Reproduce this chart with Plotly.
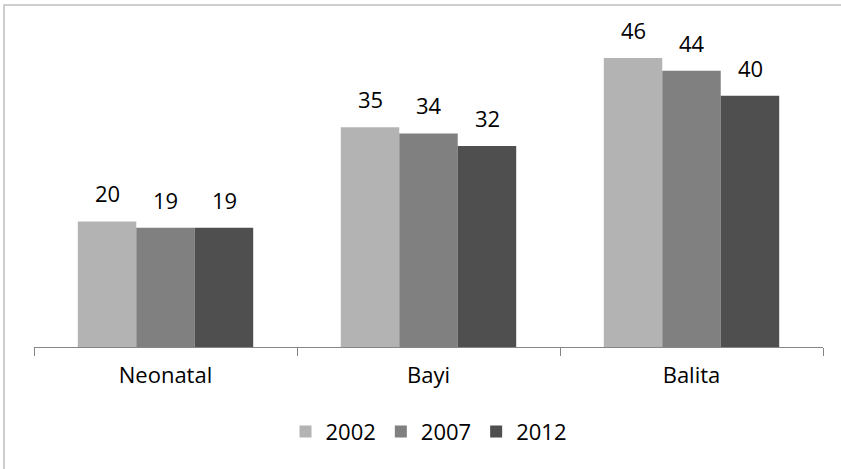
import plotly.graph_objects as go

# Mortality rates by age group across three survey years
categories = ["Neonatal", "Bayi", "Balita"]
years = ["2002", "2007", "2012"]
v2002 = [20, 35, 46]
v2007 = [19, 34, 44]
v2012 = [19, 32, 40]
series = [v2002, v2007, v2012]
colors = ["#B3B3B3", "#808080", "#4F4F4F"]

FONT = "'Open Sans', sans-serif"
FS = 22
BAR_PX = 58.5  # pixel width of one bar in a group

fig = go.Figure()
for year, vals, col in zip(years, series, colors):
    fig.add_trace(go.Bar(
        x=categories, y=vals, name=year,
        marker=dict(color=col, line=dict(width=0)),
    ))

# value labels above each bar
annotations = []
for i, vals in enumerate(series):
    for cat, v in zip(categories, vals):
        annotations.append(dict(
            x=cat, y=v, xref="x", yref="y", text=str(v), showarrow=False,
            xshift=(i - 1) * BAR_PX, yshift=28, yanchor="middle",
            font=dict(family=FONT, size=FS, color="#000000"),
        ))

fig.update_layout(
    width=841, height=469,
    margin=dict(l=34, r=18, t=33, b=122),
    paper_bgcolor="white", plot_bgcolor="white",
    barmode="group", bargap=0.333, bargroupgap=0,
    font=dict(family=FONT, size=FS, color="#000000"),
    showlegend=True,
    legend=dict(orientation="h", x=0.5, xanchor="center", y=-0.27, yanchor="middle",
                font=dict(family=FONT, size=FS, color="#000000"),
                itemwidth=30, traceorder="normal"),
    xaxis=dict(showline=True, linecolor="#868686", linewidth=1,
               ticks="outside", ticklen=8, tickcolor="#868686",
               tickson="boundaries", showgrid=False, ticklabelstandoff=9,
               tickfont=dict(family=FONT, size=FS, color="#000000")),
    yaxis=dict(range=[0, 50], visible=False, showgrid=False),
    annotations=annotations,
    shapes=[dict(type="rect", xref="paper", yref="paper",
                 x0=-30/789, x1=1.2, y0=-0.6, y1=1 + 28/314,
                 line=dict(color="#BFBFBF", width=1.5), fillcolor="rgba(0,0,0,0)")],
)

fig.write_html("out.html")
